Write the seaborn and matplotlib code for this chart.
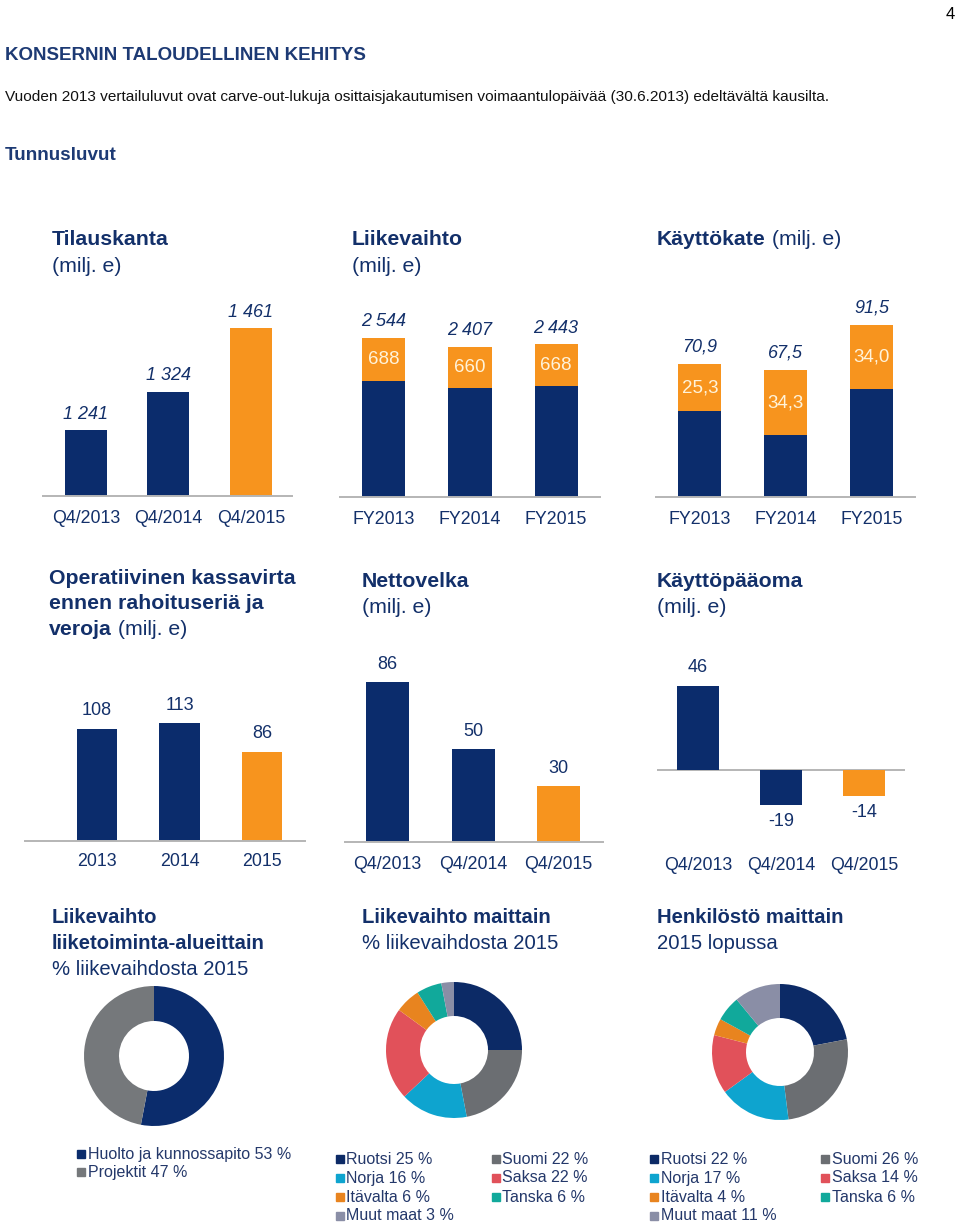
import matplotlib
matplotlib.use("Agg")
import matplotlib.pyplot as plt
import seaborn as sns
from matplotlib.patches import Rectangle

# ---------------- data ----------------
tilaus_cats = ["Q4/2013", "Q4/2014", "Q4/2015"]
tilaus_vals = [1241, 1324, 1461]

lv_cats = ["FY2013", "FY2014", "FY2015"]
lv_total = [2544, 2407, 2443]
lv_part = [688, 660, 668]

kk_cats = ["FY2013", "FY2014", "FY2015"]
kk_total = [70.9, 67.5, 91.5]
kk_part = [25.3, 34.3, 34.0]

ok_cats = ["2013", "2014", "2015"]
ok_vals = [108, 113, 86]

nv_cats = ["Q4/2013", "Q4/2014", "Q4/2015"]
nv_vals = [86, 50, 30]

kp_cats = ["Q4/2013", "Q4/2014", "Q4/2015"]
kp_vals = [46, -19, -14]

seg_labels = ["Huolto ja kunnossapito", "Projektit"]
seg_share = [53, 47]

country_labels = ["Ruotsi", "Suomi", "Norja", "Saksa", "Itävalta", "Tanska", "Muut maat"]
sales_share = [25, 22, 16, 22, 6, 6, 3]
staff_share = [22, 26, 17, 14, 4, 6, 11]

# ---------------- style ----------------
sns.set_theme(style="white")
plt.rcParams["font.family"] = ["Liberation Sans", "DejaVu Sans"]

W, H = 960, 1229
NAVY = "#0b2c6c"
ORANGE = "#f7941e"
TXT = "#13306a"
AXIS_GREY = "#b5b5b5"
CREAM = "#fff3da"
GREY_SEG = "#75787b"
country_colors = ["#0c2a66", "#6b6e72", "#0ea4cf", "#e1515a", "#e8841f", "#11a99b", "#8a8ea6"]

fig = plt.figure(figsize=(W / 100, H / 100), dpi=100)


def px_ax(x0, x1, y_top, y_bot):
    return fig.add_axes([x0 / W, 1 - y_bot / H, (x1 - x0) / W, (y_bot - y_top) / H])


def ftext(x, y, s, **kw):
    return fig.text(x / W, 1 - y / H, s, **kw)


def fmt_int(v):
    return f"{v:,}".replace(",", " ")


def fmt_dec(v):
    return f"{v:.1f}".replace(".", ",")


def style_bar_ax(ax, xlim, ylim, pad=9, spine=True):
    ax.set_xlim(*xlim)
    ax.set_ylim(*ylim)
    ax.set(xlabel="", ylabel="")
    ax.set_yticks([])
    for s in ["left", "right", "top"]:
        ax.spines[s].set_visible(False)
    ax.spines["bottom"].set_visible(spine)
    ax.spines["bottom"].set_color(AXIS_GREY)
    ax.spines["bottom"].set_linewidth(1.4)
    ax.tick_params(axis="x", length=0, pad=pad, labelsize=12.8, labelcolor=TXT)
    ax.patch.set_alpha(0)


def label(ax, i, v, s, off, italic=False, color=TXT, size=13):
    ax.annotate(s, (i, v), xytext=(0, off), textcoords="offset pixels",
                ha="center", va="center", fontsize=size, color=color,
                style="italic" if italic else "normal", annotation_clip=False)


# ---------------- header ----------------
ftext(950, 19, "4", fontsize=12, color="black", ha="center")
ftext(5, 60, "KONSERNIN TALOUDELLINEN KEHITYS", fontsize=13.5, weight="bold", color="#1d3a74")
ftext(5, 101, "Vuoden 2013 vertailuluvut ovat carve-out-lukuja osittaisjakautumisen "
      "voimaantulopäivää (30.6.2013) edeltävältä kausilta.", fontsize=11.1, color="#111111")
ftext(5, 160, "Tunnusluvut", fontsize=13.6, weight="bold", color="#1d3a74")

# ---------------- titles ----------------
TS = 15.3
renderer = fig.canvas.get_renderer()


def title_pair(x, y, bold, reg):
    t = ftext(x, y, bold, fontsize=TS, weight="bold", color=TXT)
    if reg:
        bb = t.get_window_extent(renderer=renderer)
        fig.text(bb.x1 / W, 1 - y / H, " " + reg, fontsize=TS, color=TXT)


title_pair(52, 245, "Tilauskanta", None)
ftext(52, 272, "(milj. e)", fontsize=TS, color=TXT)
title_pair(352, 245, "Liikevaihto", None)
ftext(352, 272, "(milj. e)", fontsize=TS, color=TXT)
title_pair(657, 245, "Käyttökate", "(milj. e)")

title_pair(49, 584, "Operatiivinen kassavirta", None)
title_pair(49, 609, "ennen rahoituseriä ja", None)
title_pair(49, 635, "veroja", "(milj. e)")
title_pair(362, 587, "Nettovelka", None)
ftext(362, 613, "(milj. e)", fontsize=TS, color=TXT)
title_pair(657, 587, "Käyttöpääoma", None)
ftext(657, 613, "(milj. e)", fontsize=TS, color=TXT)

TS3 = 14.6
ftext(52, 923, "Liikevaihto", fontsize=TS3, weight="bold", color=TXT)
ftext(52, 949, "liiketoiminta-alueittain", fontsize=TS3, weight="bold", color=TXT)
ftext(52, 975, "% liikevaihdosta 2015", fontsize=TS3, color=TXT)
ftext(362, 923, "Liikevaihto maittain", fontsize=TS3, weight="bold", color=TXT)
ftext(362, 949, "% liikevaihdosta 2015", fontsize=TS3, color=TXT)
ftext(657, 923, "Henkilöstö maittain", fontsize=TS3, weight="bold", color=TXT)
ftext(657, 949, "2015 lopussa", fontsize=TS3, color=TXT)

# ---------------- row 1 ----------------
# Tilauskanta (axis starts at 1100)
ax1 = px_ax(43, 292, 296, 496)
sns.barplot(x=tilaus_cats, y=tilaus_vals, hue=tilaus_cats, palette=[NAVY, NAVY, ORANGE],
            legend=False, saturation=1, width=0.51, linewidth=0, errorbar=None, ax=ax1)
style_bar_ax(ax1, (-0.52, 2.5), (1100, 1100 + 200 / 0.465), pad=10)
for i, v in enumerate(tilaus_vals):
    label(ax1, i, v, fmt_int(v), 16, italic=True)

# Liikevaihto stacked
ax2 = px_ax(340, 600, 297, 497)
lv_base = [t - p for t, p in zip(lv_total, lv_part)]
sns.barplot(x=lv_cats, y=lv_total, color=ORANGE, saturation=1, width=0.5, linewidth=0,
            errorbar=None, ax=ax2)
sns.barplot(x=lv_cats, y=lv_base, color=NAVY, saturation=1, width=0.5, linewidth=0,
            errorbar=None, ax=ax2)
style_bar_ax(ax2, (-0.51, 2.51), (0, 200 / 0.0625), pad=10)
for i, (t, p, b) in enumerate(zip(lv_total, lv_part, lv_base)):
    label(ax2, i, t, fmt_int(t), 16, italic=True)
    label(ax2, i, b + p / 2, str(p), 0, color=CREAM, size=13.5)

# Käyttökate stacked
ax3 = px_ax(656, 915, 297, 497)
kk_base = [t - p for t, p in zip(kk_total, kk_part)]
sns.barplot(x=kk_cats, y=kk_total, color=ORANGE, saturation=1, width=0.5, linewidth=0,
            errorbar=None, ax=ax3)
sns.barplot(x=kk_cats, y=kk_base, color=NAVY, saturation=1, width=0.5, linewidth=0,
            errorbar=None, ax=ax3)
style_bar_ax(ax3, (-0.51, 2.5), (0, 200 / 1.876), pad=10)
for i, (t, p, b) in enumerate(zip(kk_total, kk_part, kk_base)):
    label(ax3, i, t, fmt_dec(t), 17, italic=True)
    label(ax3, i, b + p / 2, fmt_dec(p), 0, color=CREAM, size=13.5)

# ---------------- row 2 ----------------
ax4 = px_ax(25, 305, 641, 841)
sns.barplot(x=ok_cats, y=ok_vals, hue=ok_cats, palette=[NAVY, NAVY, ORANGE],
            legend=False, saturation=1, width=0.49, linewidth=0, errorbar=None, ax=ax4)
style_bar_ax(ax4, (-0.87, 2.52), (0, 200 / 1.04), pad=9)
for i, v in enumerate(ok_vals):
    label(ax4, i, v, str(v), 18)

ax5 = px_ax(345, 603, 642, 842)
sns.barplot(x=nv_cats, y=nv_vals, hue=nv_cats, palette=[NAVY, NAVY, ORANGE],
            legend=False, saturation=1, width=0.5, linewidth=0, errorbar=None, ax=ax5)
style_bar_ax(ax5, (-0.5, 2.52), (0, 200 / 1.86), pad=10)
for i, v in enumerate(nv_vals):
    label(ax5, i, v, str(v), 18)

ax6 = px_ax(657, 905, 640, 846)
sns.barplot(x=kp_cats, y=kp_vals, hue=kp_cats, palette=[NAVY, NAVY, ORANGE],
            legend=False, saturation=1, width=0.5, linewidth=0, errorbar=None, ax=ax6)
style_bar_ax(ax6, (-0.49, 2.49), (-(846 - 770) / 1.83, (770 - 640) / 1.83), pad=8, spine=False)
ax6.axhline(0, color=AXIS_GREY, lw=1.4, zorder=0)
for i, v in enumerate(kp_vals):
    label(ax6, i, v, str(v), 18 if v > 0 else -17)

# ---------------- row 3: donuts ----------------
def donut(cx, cy, r, vals, colors):
    ax = px_ax(cx - r, cx + r, cy - r, cy + r)
    ax.pie(vals, colors=colors, startangle=90, counterclock=False,
           wedgeprops=dict(width=0.5, linewidth=0), radius=1)
    ax.set_xlim(-1, 1)
    ax.set_ylim(-1, 1)
    ax.set_aspect("auto")
    return ax


donut(154, 1056, 70, seg_share, [NAVY, GREY_SEG])
donut(454, 1050, 68, sales_share, country_colors)
donut(780, 1052, 68, staff_share, country_colors)

# ---------------- legends ----------------
LEG_TXT = "#24386a"
LS = 11.5


def leg_item(xm, xt, y, color, s):
    fig.patches.append(Rectangle(((xm - 4) / W, 1 - (y + 4) / H), 8 / W, 8 / H,
                                 transform=fig.transFigure, color=color, figure=fig))
    ftext(xt, y, s, fontsize=LS, color=LEG_TXT, va="center")


for k, (lab, v) in enumerate(zip(seg_labels, seg_share)):
    leg_item(81, 88, 1154 + 18 * k, [NAVY, GREY_SEG][k], f"{lab} {v} %")

col1 = [0, 2, 4, 6]
col2 = [1, 3, 5]
for shares, (xm1, xt1, xm2, xt2) in [(sales_share, (340, 346, 496, 502)),
                                       (staff_share, (654, 661, 825, 832))]:
    for r, idx in enumerate(col1):
        leg_item(xm1, xt1, 1159 + 19 * r, country_colors[idx],
                 f"{country_labels[idx]} {shares[idx]} %")
    for r, idx in enumerate(col2):
        leg_item(xm2, xt2, 1159 + 19 * r, country_colors[idx],
                 f"{country_labels[idx]} {shares[idx]} %")

fig.savefig("out.png", dpi=100, facecolor="white")
